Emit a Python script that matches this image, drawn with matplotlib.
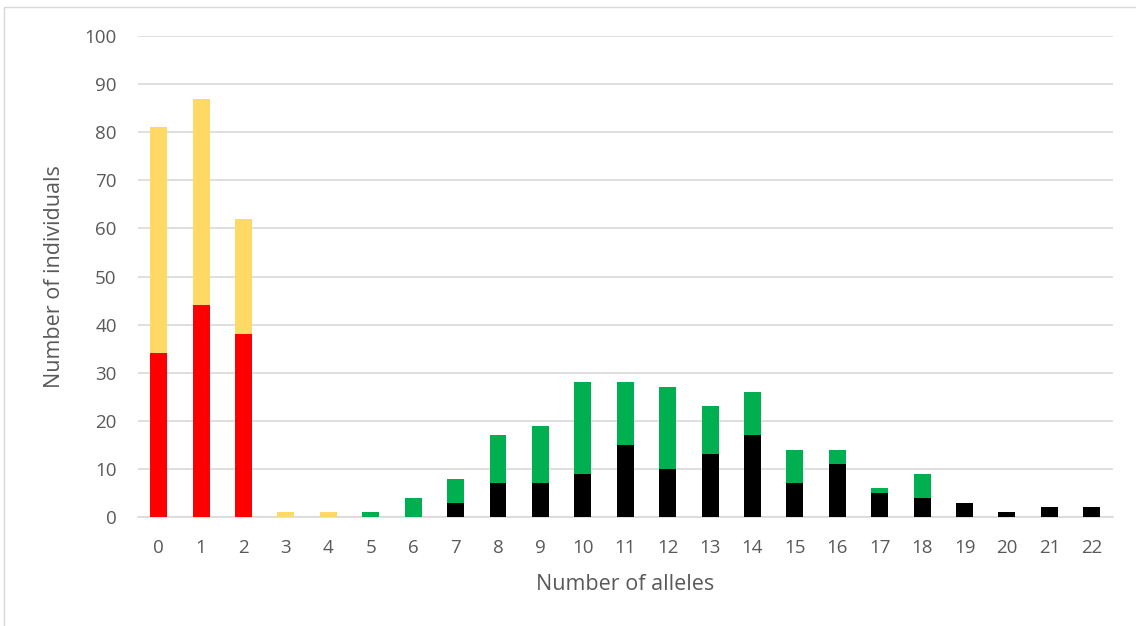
import matplotlib
matplotlib.use("Agg")
import matplotlib.pyplot as plt
from matplotlib.patches import Rectangle
import numpy as np

categories = [str(i) for i in range(23)]
# lower segment (red for 0-2, black for 7+)
lower_values = [34, 44, 38, 0, 0, 0, 0, 3, 7, 7, 9, 15, 10, 13, 17, 7, 11, 5, 4, 3, 1, 2, 2]
# upper segment (yellow for 0-4, green for 5-18)
upper_values = [47, 43, 24, 1, 1, 1, 4, 5, 10, 12, 19, 13, 17, 10, 9, 7, 3, 1, 5, 0, 0, 0, 0]

lower_colors = ["#FF0000"] * 3 + ["#000000"] * 20
upper_colors = ["#FFD966"] * 5 + ["#00B050"] * 18

plt.rcParams['font.family'] = ['Open Sans', 'DejaVu Sans']

fig = plt.figure(figsize=(11.36, 6.26), dpi=100)
ax = fig.add_axes([137.5/1136, 1 - 517/626, (1113-137.5)/1136, (517-36)/626])

x = np.arange(len(categories))
ax.bar(x, lower_values, width=0.4, color=lower_colors, zorder=3)
ax.bar(x, upper_values, bottom=lower_values, width=0.4, color=upper_colors, zorder=3)

ax.set_xlim(-0.5, len(categories) - 0.5)
ax.set_ylim(0, 100)
ax.set_yticks(range(0, 101, 10))
ax.set_xticks(x)
ax.set_xticklabels(categories)
ax.grid(axis='y', color='#D9D9D9', linewidth=1.2, zorder=0)
for s in ['top', 'right', 'left']:
    ax.spines[s].set_visible(False)
ax.spines['bottom'].set_color('#D9D9D9')
ax.spines['bottom'].set_linewidth(1.2)
ax.tick_params(axis='both', length=0, labelsize=13.5, colors='#595959')
ax.tick_params(axis='x', pad=16)
ax.tick_params(axis='y', pad=15)
ax.set_xlabel('Number of alleles', fontsize=15.5, color='#595959', labelpad=12)
ax.set_ylabel('Number of individuals', fontsize=15.5, color='#595959', labelpad=14)

fig.patches.append(Rectangle((4/1136, -0.1), 1.2, 1 - 7/626 + 0.1, transform=fig.transFigure,
                             fill=False, edgecolor='#D9D9D9', linewidth=1))

fig.savefig('out.png', dpi=100)
